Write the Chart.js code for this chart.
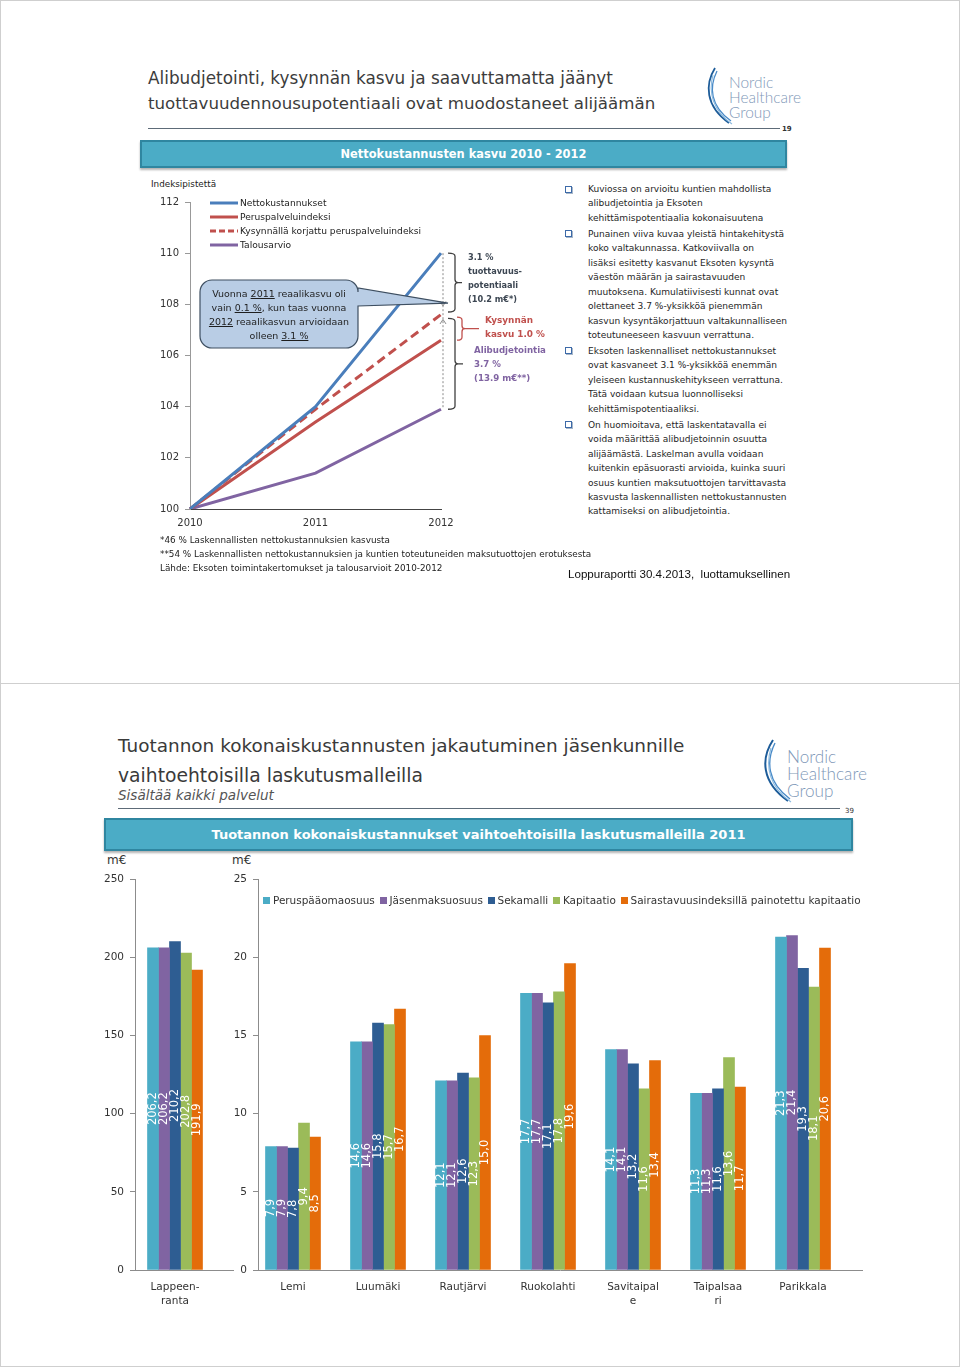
<!DOCTYPE html>
<html lang="fi">
<head>
<meta charset="utf-8">
<title>Nettokustannusten kasvu / Tuotannon kokonaiskustannukset</title>
<script src="https://cdn.jsdelivr.net/npm/chart.js@4.4.1/dist/chart.umd.min.js"></script>
<style>
*{box-sizing:border-box}
html,body{margin:0;padding:0;background:#fff}
body{position:relative;width:960px;height:1367px;overflow:hidden;font-family:"DejaVu Sans",sans-serif;color:#333}
.t{position:absolute;white-space:nowrap}
.fit{display:inline-block}
.page{position:absolute;left:0;width:960px;border:1px solid #cfcfcf}
.rule{position:absolute;height:0;border-top:1.5px solid #5d6b78}
.banner{position:absolute;background:#4bacc6;border:2px solid #2f86a0;display:flex;align-items:center;justify-content:center;color:#fff;font-weight:bold;box-shadow:0 2px 2px rgba(0,0,0,.3)}
.logo{position:absolute;color:#7f99b8;font-family:Lato,"DejaVu Sans",sans-serif;font-weight:300;white-space:nowrap}
canvas{position:absolute}
.para{position:relative}
.bul{position:absolute;left:-23px;top:3.5px;width:7px;height:7px;border:1px solid #3d6aa8;background:#fff;box-shadow:1px 1px 0 #a7b7c9}
.lg{display:flex;align-items:center;height:14px}
.lg svg{margin-right:2px;flex:none}
</style>
</head>
<body>
<div class="page" style="top:0;height:684px"></div>
<div class="page" style="top:683px;height:684px"></div>

<!-- ================= TOP SLIDE ================= -->
<div class="t fit" data-w="465" style="left:148px;top:67px;font-size:17px;line-height:22px;color:#3c3c3c">Alibudjetointi, kysynnän kasvu ja saavuttamatta jäänyt</div>
<div class="t fit" data-w="507" style="left:148px;top:93px;font-size:17px;line-height:22px;color:#3c3c3c">tuottavuudennousupotentiaali ovat muodostaneet alijäämän</div>

<svg style="position:absolute;left:704px;top:66px" width="30" height="60">
  <path d="M11,2 C1,18 1,40 25,57" stroke="#1d5c99" stroke-width="1.8" fill="none"/>
  <path d="M13,5 C5,21 6,40 27,55" stroke="#4a8bc8" stroke-width="1.3" fill="none"/>
  <path d="M9,9 C4,26 9,45 28,58" stroke="#8dbbe0" stroke-width="1.1" fill="none"/>
</svg>
<div class="logo fit" data-w="72" style="left:729px;top:75px;font-size:14px;line-height:15px">Nordic<br>Healthcare<br>Group</div>

<div class="rule" style="left:148px;top:128px;width:632px"></div>
<div class="t" style="left:782px;top:124px;font-size:7px;line-height:10px;font-weight:bold;color:#333">19</div>

<div class="banner" style="left:140px;top:140px;width:647px;height:28px"><span class="fit" data-w="246" style="font-size:13px;white-space:nowrap">Nettokustannusten kasvu 2010 - 2012</span></div>

<div class="t fit" data-w="65" style="left:151px;top:178px;font-size:9px;line-height:12px;color:#222">Indeksipistettä</div>

<canvas id="lineChart" width="420" height="345" style="left:140px;top:190px"></canvas>

<div class="t fit" id="lineLegend" data-w="211" style="left:210px;top:196px;font-size:8px;line-height:14px;color:#222;z-index:2">
  <div class="lg"><svg width="28" height="6"><line x1="0" y1="3" x2="28" y2="3" stroke="#4a7ebb" stroke-width="3"/></svg>Nettokustannukset</div>
  <div class="lg"><svg width="28" height="6"><line x1="0" y1="3" x2="28" y2="3" stroke="#c0504d" stroke-width="3"/></svg>Peruspalveluindeksi</div>
  <div class="lg"><svg width="28" height="6"><line x1="0" y1="3" x2="28" y2="3" stroke="#c0504d" stroke-width="3" stroke-dasharray="6,3"/></svg>Kysynnällä korjattu peruspalveluindeksi</div>
  <div class="lg"><svg width="28" height="6"><line x1="0" y1="3" x2="28" y2="3" stroke="#8064a2" stroke-width="3"/></svg>Talousarvio</div>
</div>

<div class="t" style="left:200px;top:287px;width:158px;text-align:center;z-index:2">
  <div class="fit" data-w="140" style="font-size:8px;line-height:14px;color:#1e1e1e;text-align:center">Vuonna <u>2011</u> reaalikasvu oli<br>vain <u>0.1 %</u>, kun taas vuonna<br><u>2012</u> reaalikasvun arvioidaan<br>olleen <u>3.1 %</u></div>
</div>

<div class="t fit" data-w="54" style="left:468px;top:250px;font-size:8px;line-height:14px;font-weight:bold;color:#3d4753">3.1 %<br>tuottavuus-<br>potentiaali<br>(10.2 m€*)</div>
<div class="t fit" data-w="60" style="left:485px;top:313px;font-size:8px;line-height:14px;font-weight:bold;color:#c0504d">Kysynnän<br>kasvu 1.0 %</div>
<div class="t fit" data-w="72" style="left:474px;top:343px;font-size:8px;line-height:14px;font-weight:bold;color:#8064a2">Alibudjetointia<br>3.7 %<br>(13.9 m€**)</div>

<div class="t fit" data-w="199" style="left:588px;top:182px;font-size:8px;line-height:14.45px;color:#262626">
  <div class="para"><span class="bul"></span>Kuviossa on arvioitu kuntien mahdollista<br>alibudjetointia ja Eksoten<br>kehittämispotentiaalia kokonaisuutena</div>
  <div class="para" style="margin-top:1.5px"><span class="bul"></span>Punainen viiva kuvaa yleistä hintakehitystä<br>koko valtakunnassa. Katkoviivalla on<br>lisäksi esitetty kasvanut Eksoten kysyntä<br>väestön määrän ja sairastavuuden<br>muutoksena. Kumulatiivisesti kunnat ovat<br>olettaneet 3.7 %-yksikköä pienemmän<br>kasvun kysyntäkorjattuun valtakunnalliseen<br>toteutuneeseen kasvuun verrattuna.</div>
  <div class="para" style="margin-top:1.5px"><span class="bul"></span>Eksoten laskennalliset nettokustannukset<br>ovat kasvaneet 3.1 %-yksikköä enemmän<br>yleiseen kustannuskehitykseen verrattuna.<br>Tätä voidaan kutsua luonnolliseksi<br>kehittämispotentiaaliksi.</div>
  <div class="para" style="margin-top:1.5px"><span class="bul"></span>On huomioitava, että laskentatavalla ei<br>voida määrittää alibudjetoinnin osuutta<br>alijäämästä. Laskelman avulla voidaan<br>kuitenkin epäsuorasti arvioida, kuinka suuri<br>osuus kuntien maksutuottojen tarvittavasta<br>kasvusta laskennallisten nettokustannusten<br>kattamiseksi on alibudjetointia.</div>
</div>

<div class="t fit" data-w="431" style="left:160px;top:533px;font-size:8px;line-height:14px;color:#222">*46 % Laskennallisten nettokustannuksien kasvusta<br>**54 % Laskennallisten nettokustannuksien ja kuntien toteutuneiden maksutuottojen erotuksesta<br>Lähde: Eksoten toimintakertomukset ja talousarvioit 2010-2012</div>
<div class="t fit" data-w="222" style="left:568px;top:567px;font-size:11px;line-height:14px;color:#111;font-family:'Liberation Sans',Arial,sans-serif">Loppuraportti 30.4.2013,&nbsp; luottamuksellinen</div>

<!-- ================= BOTTOM SLIDE ================= -->
<div class="t fit" data-w="567" style="left:118px;top:733px;font-size:20px;line-height:26px;color:#3a3a3a">Tuotannon kokonaiskustannusten jakautuminen jäsenkunnille</div>
<div class="t fit" data-w="305" style="left:118px;top:763px;font-size:20px;line-height:26px;color:#3a3a3a">vaihtoehtoisilla laskutusmalleilla</div>
<div class="t fit" data-w="156" style="left:118px;top:787px;font-size:12px;line-height:16px;color:#555;font-style:italic">Sisältää kaikki palvelut</div>

<svg style="position:absolute;left:760px;top:738px" width="34" height="66">
  <path d="M13,2 C1,20 1,44 28,63" stroke="#1d5c99" stroke-width="2" fill="none"/>
  <path d="M15,5 C6,23 7,44 30,61" stroke="#4a8bc8" stroke-width="1.4" fill="none"/>
  <path d="M11,10 C5,29 10,50 31,64" stroke="#8dbbe0" stroke-width="1.2" fill="none"/>
</svg>
<div class="logo fit" data-w="80" style="left:787px;top:748px;font-size:16px;line-height:17px">Nordic<br>Healthcare<br>Group</div>

<div class="rule" style="left:118px;top:808px;width:722px"></div>
<div class="t" style="left:845px;top:806px;font-size:7px;line-height:10px;color:#333">39</div>

<div class="banner" style="left:104px;top:818px;width:749px;height:33px"><span class="fit" data-w="534" style="font-size:15px;white-space:nowrap">Tuotannon kokonaiskustannukset vaihtoehtoisilla laskutusmalleilla 2011</span></div>

<div class="t" style="left:107px;top:853px;font-size:12px;line-height:14px;color:#333">m€</div>
<div class="t" style="left:232px;top:853px;font-size:12px;line-height:14px;color:#333">m€</div>

<canvas id="bigChart" width="140" height="443" style="left:95px;top:867px"></canvas>
<canvas id="smallChart" width="645" height="443" style="left:225px;top:867px"></canvas>

<div class="t fit" id="barLegend" data-w="598" style="left:263px;top:893px;font-size:10px;line-height:14px;color:#333;z-index:2"></div>

<script>
// ================= DATA =================
// Top chart: Nettokustannusten kasvu 2010 - 2012 (index, 2010 = 100)
const years = ['2010', '2011', '2012'];
const nettokustannukset = [100, 104.0, 110.0];
const peruspalveluindeksi = [100, 103.4, 106.6];
const kysynnallaKorjattu = [100, 103.9, 107.6];
const talousarvio = [100, 101.4, 103.9];
const lineSeriesNames = ['Nettokustannukset', 'Peruspalveluindeksi', 'Kysynnällä korjattu peruspalveluindeksi', 'Talousarvio'];

// Bottom chart: Tuotannon kokonaiskustannukset 2011 (m€)
const models = ['Peruspääomaosuus', 'Jäsenmaksuosuus', 'Sekamalli', 'Kapitaatio', 'Sairastavuusindeksillä painotettu kapitaatio'];
const bigCity = [['Lappeen-', 'ranta']];
const bigCityValues = [206.2, 206.2, 210.2, 202.8, 191.9];
const municipalities = [['Lemi'], ['Luumäki'], ['Rautjärvi'], ['Ruokolahti'], ['Savitaipal', 'e'], ['Taipalsaa', 'ri'], ['Parikkala']];
const peruspaaomaosuus = [7.9, 14.6, 12.1, 17.7, 14.1, 11.3, 21.3];
const jasenmaksuosuus = [7.9, 14.6, 12.1, 17.7, 14.1, 11.3, 21.4];
const sekamalli = [7.8, 15.8, 12.6, 17.1, 13.2, 11.6, 19.3];
const kapitaatio = [9.4, 15.7, 12.3, 17.8, 11.6, 13.6, 18.1];
const sairastavuus = [8.5, 16.7, 15.0, 19.6, 13.4, 11.7, 20.6];

// ================= STYLES =================
const modelColors = ['#4bacc6', '#8064a2', '#2e5d92', '#9bbb59', '#e46c0a'];

// ---- legend for bar chart (built from arrays) ----
document.getElementById('barLegend').innerHTML = models.map((m, i) =>
  '<span style="display:inline-block;width:0.7em;height:0.7em;background:' + modelColors[i] +
  ';margin-right:0.25em;vertical-align:0"></span>' + m).join('<span style="display:inline-block;width:0.45em"></span>');

// ---- fit text widths ----
document.querySelectorAll('[data-w]').forEach(el => {
  const target = +el.dataset.w;
  for (let k = 0; k < 3; k++) {
    const w = el.getBoundingClientRect().width;
    const fs = parseFloat(getComputedStyle(el).fontSize);
    if (w > 0) el.style.fontSize = (fs * target / w) + 'px';
  }
});

Chart.defaults.font.family = "'DejaVu Sans', sans-serif";
Chart.defaults.color = '#333';
Chart.defaults.animation = false;

// ================= TOP LINE CHART =================
function bracket(ctx, bx, y1, y2, hook, tip, color) {
  const m = (y1 + y2) / 2;
  ctx.strokeStyle = color; ctx.lineWidth = 1.3; ctx.setLineDash([]);
  ctx.beginPath();
  ctx.moveTo(bx - hook, y1); ctx.quadraticCurveTo(bx, y1, bx, y1 + 3);
  ctx.lineTo(bx, m - 3); ctx.quadraticCurveTo(bx, m, bx + 3, m); ctx.lineTo(bx + tip, m);
  ctx.moveTo(bx + 3, m); ctx.quadraticCurveTo(bx, m, bx, m + 3);
  ctx.lineTo(bx, y2 - 3); ctx.quadraticCurveTo(bx, y2, bx - hook, y2);
  ctx.stroke();
}
const annotPlugin = {
  id: 'annot',
  afterDatasetsDraw(chart) {
    const { ctx, scales: { x, y } } = chart;
    const x2 = x.getPixelForValue(2);
    const Y = v => y.getPixelForValue(v);
    ctx.save();
    // dotted guide at 2012
    ctx.strokeStyle = '#8a8a8a'; ctx.lineWidth = 1; ctx.setLineDash([2, 2]);
    ctx.beginPath(); ctx.moveTo(x2 + 2, Y(nettokustannukset[2])); ctx.lineTo(x2 + 2, Y(talousarvio[2])); ctx.stroke();
    ctx.setLineDash([]);
    // small arrow heads
    const yv = Y(108.0), ya = Y(107.35);
    ctx.beginPath(); ctx.moveTo(x2 - 1, yv - 3); ctx.lineTo(x2 + 2, yv + 1.5); ctx.lineTo(x2 + 5, yv - 3);
    ctx.moveTo(x2 - 1, ya + 3); ctx.lineTo(x2 + 2, ya - 1.5); ctx.lineTo(x2 + 5, ya + 3); ctx.stroke();
    // brackets
    bracket(ctx, x2 + 14, Y(nettokustannukset[2]), Y(107.7), 7, 7, '#404040');
    bracket(ctx, x2 + 21, Y(107.5), Y(peruspalveluindeksi[2]), 5, 17, '#c0504d');
    bracket(ctx, x2 + 14, Y(107.45), Y(talousarvio[2]), 7, 8, '#404040');
    // callout bubble
    const x0 = 60, y0 = 90, x1 = 218, y1 = 158, r = 12;
    const tipX = x2 + 7, tipY = Y(108.05);
    ctx.beginPath();
    ctx.moveTo(x0 + r, y0);
    ctx.lineTo(x1 - r, y0); ctx.arcTo(x1, y0, x1, y0 + r, r);
    ctx.lineTo(x1, y0 + 8); ctx.lineTo(tipX, tipY); ctx.lineTo(x1, y0 + 26);
    ctx.lineTo(x1, y1 - r); ctx.arcTo(x1, y1, x1 - r, y1, r);
    ctx.lineTo(x0 + r, y1); ctx.arcTo(x0, y1, x0, y1 - r, r);
    ctx.lineTo(x0, y0 + r); ctx.arcTo(x0, y0, x0 + r, y0, r);
    ctx.closePath();
    ctx.fillStyle = '#b9cde5'; ctx.fill();
    ctx.strokeStyle = '#3e4f61'; ctx.lineWidth = 1.2; ctx.stroke();
    ctx.restore();
  }
};

new Chart(document.getElementById('lineChart'), {
  type: 'line',
  data: {
    labels: years,
    datasets: [
      { label: lineSeriesNames[0], data: nettokustannukset, borderColor: '#4a7ebb', borderWidth: 3, pointRadius: 0, tension: 0 },
      { label: lineSeriesNames[1], data: peruspalveluindeksi, borderColor: '#c0504d', borderWidth: 3, pointRadius: 0, tension: 0 },
      { label: lineSeriesNames[2], data: kysynnallaKorjattu, borderColor: '#c0504d', borderWidth: 3, borderDash: [9, 5], pointRadius: 0, tension: 0 },
      { label: lineSeriesNames[3], data: talousarvio, borderColor: '#8064a2', borderWidth: 3, pointRadius: 0, tension: 0 }
    ]
  },
  options: {
    responsive: false, animation: false,
    layout: { padding: { top: 10, right: 119, left: 0, bottom: 0 } },
    plugins: { legend: { display: false }, tooltip: { enabled: false } },
    scales: {
      x: {
        offset: false,
        grid: { display: false },
        border: { display: true, color: '#444', dash: [2, 2], width: 1 },
        ticks: { padding: 0, font: { size: 10 }, color: '#333', maxRotation: 0 },
        afterFit: s => { s.height = 26; }
      },
      y: {
        min: 100, max: 112,
        ticks: { stepSize: 2, padding: 6, font: { size: 10 }, color: '#333' },
        grid: { drawOnChartArea: false, tickLength: 5, color: '#999' },
        border: { color: '#999' },
        afterFit: s => { s.width = 50; }
      }
    }
  },
  plugins: [annotPlugin]
});

// ================= BOTTOM BAR CHARTS =================
const barLabelPlugin = {
  id: 'barLabels',
  afterDatasetsDraw(chart) {
    const ctx = chart.ctx;
    ctx.save();
    ctx.font = "11.5px 'DejaVu Sans', sans-serif";
    ctx.fillStyle = '#ffffff';
    ctx.textAlign = 'center';
    ctx.textBaseline = 'middle';
    chart.data.datasets.forEach((ds, di) => {
      chart.getDatasetMeta(di).data.forEach((bar, i) => {
        const v = ds.data[i].y;
        ctx.save();
        ctx.translate(bar.x, (bar.y + bar.base) / 2);
        ctx.rotate(-Math.PI / 2);
        ctx.fillText(v.toFixed(1).replace('.', ','), 0, 0);
        ctx.restore();
      });
    });
    ctx.restore();
  }
};

function barOptions(cats, xmin, xmax, ymax, ystep, yWidth, padRight) {
  return {
    responsive: false, animation: false,
    layout: { padding: { top: 10, right: padRight, left: 0, bottom: 0 } },
    plugins: { legend: { display: false }, tooltip: { enabled: false } },
    scales: {
      x: {
        type: 'linear', bounds: 'data', offset: false, min: xmin, max: xmax,
        afterBuildTicks: s => { s.ticks = cats.map((_, i) => ({ value: i })); },
        grid: { display: false },
        border: { display: true, color: '#8c8c8c', width: 1 },
        ticks: {
          autoSkip: false, maxRotation: 0, minRotation: 0, padding: 2,
          font: { size: 10.5, lineHeight: 1.35 }, color: '#333',
          callback: v => (Number.isInteger(v) && cats[v]) ? cats[v] : ''
        },
        afterFit: s => { s.height = 40; }
      },
      y: {
        min: 0, max: ymax,
        ticks: { stepSize: ystep, padding: 6, font: { size: 10.5 }, color: '#333' },
        grid: { drawOnChartArea: false, tickLength: 5, color: '#8c8c8c' },
        border: { color: '#8c8c8c' },
        afterFit: s => { s.width = yWidth; }
      }
    }
  };
}

new Chart(document.getElementById('bigChart'), {
  type: 'bar',
  data: {
    datasets: models.map((m, k) => ({
      label: m,
      data: [{ x: 0, y: bigCityValues[k] }],
      backgroundColor: modelColors[k], borderWidth: 0, barThickness: 11
    }))
  },
  options: barOptions(bigCity, -0.5, 0.725, 250, 50, 40, 2),
  plugins: [barLabelPlugin]
});

const smallSeries = [peruspaaomaosuus, jasenmaksuosuus, sekamalli, kapitaatio, sairastavuus];
new Chart(document.getElementById('smallChart'), {
  type: 'bar',
  data: {
    datasets: models.map((m, k) => ({
      label: m,
      data: smallSeries[k].map((v, i) => ({ x: i, y: v })),
      backgroundColor: modelColors[k], borderWidth: 0, barThickness: 11
    }))
  },
  options: barOptions(municipalities, -35 / 85, -35 / 85 + 604 / 85, 25, 5, 33, 8),
  plugins: [barLabelPlugin]
});
</script>
</body>
</html>
